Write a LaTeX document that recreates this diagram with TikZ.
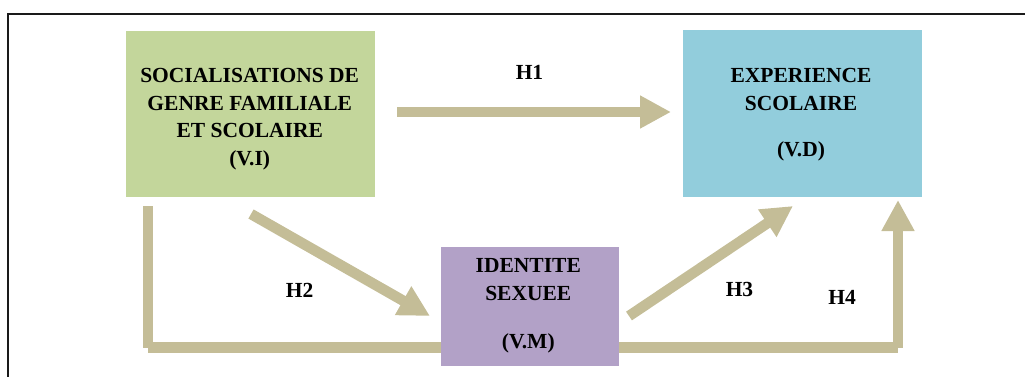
\documentclass[tikz,border=0pt]{standalone}
\usepackage{fontspec}
\setmainfont{Liberation Serif}
\usetikzlibrary{arrows.meta}
\definecolor{vigreen}{HTML}{C3D69B}
\definecolor{vdblue}{HTML}{92CDDC}
\definecolor{vmpurple}{HTML}{B2A1C7}
\definecolor{linktan}{HTML}{C4BD97}
\definecolor{framegray}{HTML}{1A1A1A}
\begin{document}
\begin{tikzpicture}[x=1pt,y=-1pt,
  boldtext/.style={font=\fontsize{21.5}{27.6}\selectfont\bfseries},
  varbox/.style={inner sep=0pt, outer sep=0pt, draw=none},
  vartext/.style={boldtext, inner sep=0pt, align=center, anchor=north},
  hyp/.style={boldtext, inner sep=0pt, anchor=north},
  link/.style={draw=linktan, line width=10.5pt, line cap=butt},
  linkarrow/.style={link, -{Triangle[length=31pt,width=31pt]}}
]
\useasboundingbox (0,0) rectangle (1025,376);

% outer frame (left and top edges)
\draw[framegray, line width=2.3pt] (8.3,380) -- (8.3,13.8) -- (1030,13.8);

% connector end points
\coordinate (h1s) at (397,112);
\coordinate (h1e) at (671,112);
\coordinate (h2s) at (251,214);
\coordinate (h2e) at (430,316);
\coordinate (h3s) at (629,316);
\coordinate (h3e) at (793,206);
\coordinate (ls)  at (148,206);
\coordinate (lc)  at (148,347.5);
\coordinate (lm)  at (441,347.5);
\coordinate (rm)  at (618.5,347.5);
\coordinate (rc)  at (898,347.5);
\coordinate (re)  at (898,200);

% connectors
\draw[linkarrow] (h1s) -- (h1e);
\draw[linkarrow] (h2s) -- (h2e);
\draw[linkarrow] (h3s) -- (h3e);
\draw[link] (ls) -- (lc);
\draw[link] (lc) -- (lm);
\draw[link] (rm) -- (rc);
\draw[linkarrow] (rc) -- (re);

% variable boxes
\node[varbox, fill=vigreen, minimum width=249pt, minimum height=166pt] (vi) at (250.5,114) {};
\node[varbox, fill=vdblue, minimum width=239pt, minimum height=167pt] (vd) at (802.5,113.5) {};
\node[varbox, fill=vmpurple, minimum width=177.5pt, minimum height=119pt] (vm) at (529.75,306.5) {};

% box texts
\node[vartext] (vi-t) at (249.7,68.3) {SOCIALISATIONS DE\\GENRE FAMILIALE\\ET SCOLAIRE\\(V.I)};
\node[vartext] (vd-t) at (801,68.3) {EXPERIENCE\\SCOLAIRE\\[18.4pt](V.D)};
\node[vartext] (vm-t) at (528.3,258.3) {IDENTITE\\[0.7pt]SEXUEE\\[19.7pt](V.M)};

% hypothesis labels
\node[hyp] (H1) at (529.5,65) {H1};
\node[hyp] (H2) at (299.7,282.7) {H2};
\node[hyp] (H3) at (739.5,281.7) {H3};
\node[hyp] (H4) at (842,290) {H4};
\end{tikzpicture}
\end{document}
